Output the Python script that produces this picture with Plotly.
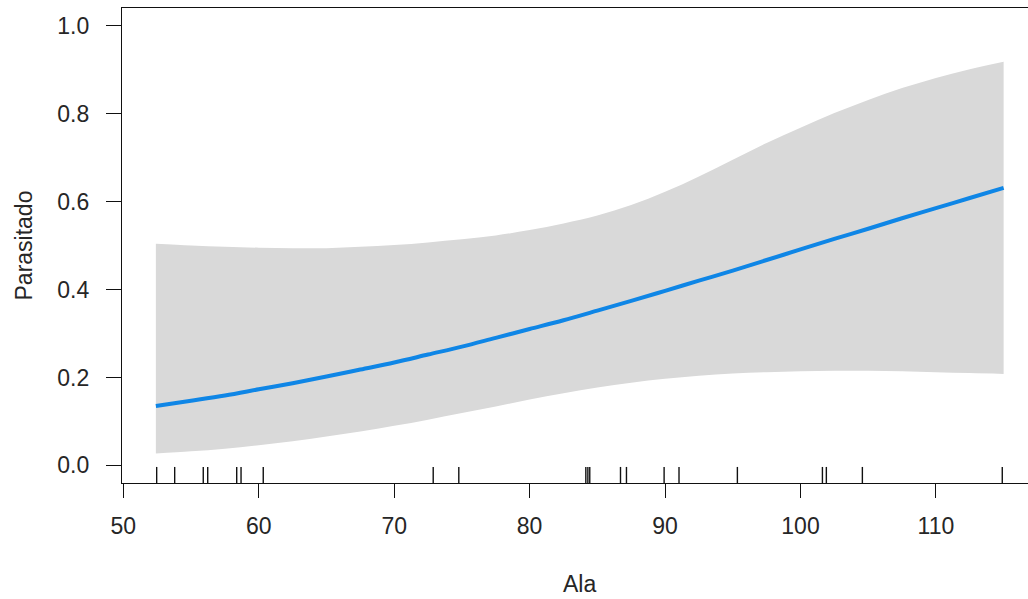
import plotly.graph_objects as go

# Fitted curve (Ala vs probability Parasitado)
ala = [52.4, 55, 57.5, 60, 62.5, 65, 67.5, 70, 72.5, 75, 77.5, 80, 82.5,
       85, 87.5, 90, 92.5, 95, 97.5, 100, 102.5, 105, 107.5, 110, 112.5, 115]
fit = [0.135, 0.147, 0.159, 0.173, 0.187, 0.202, 0.218, 0.234, 0.252, 0.270,
       0.290, 0.310, 0.330, 0.352, 0.374, 0.397, 0.420, 0.443, 0.467, 0.491,
       0.515, 0.538, 0.562, 0.585, 0.608, 0.631]
upper = [0.504, 0.500, 0.497, 0.495, 0.494, 0.494, 0.497, 0.501, 0.507, 0.514,
         0.523, 0.535, 0.550, 0.568, 0.592, 0.622, 0.657, 0.695, 0.733, 0.768,
         0.801, 0.831, 0.858, 0.881, 0.901, 0.918]
lower = [0.027, 0.032, 0.038, 0.046, 0.055, 0.066, 0.077, 0.090, 0.104, 0.119,
         0.134, 0.150, 0.164, 0.177, 0.188, 0.197, 0.204, 0.209, 0.212, 0.214,
         0.215, 0.215, 0.214, 0.212, 0.210, 0.208]

# Observed Ala values (rug)
rug = [52.46, 53.79, 55.90, 56.23, 58.37, 58.69, 60.33, 72.88, 74.77,
       84.15, 84.30, 84.44, 86.71, 87.15, 89.93, 91.03, 95.34, 101.62,
       101.91, 104.57, 114.90]

x_ticks = [50, 60, 70, 80, 90, 100, 110]
y_ticks = [0.0, 0.2, 0.4, 0.6, 0.8, 1.0]
y_tick_text = ["0.0", "0.2", "0.4", "0.6", "0.8", "1.0"]

XR = [49.9, 116.8]
YR = [-0.04, 1.04]
RUG_TOP = -0.0035

FONT = "Liberation Sans, Arial, sans-serif"
TXT = "#262626"
FS = 23

fig = go.Figure()

# confidence band (lower, then upper filled to it)
fig.add_trace(go.Scatter(
    x=ala, y=lower, mode="lines",
    line=dict(width=0, shape="spline", color="#d9d9d9"),
    hoverinfo="skip", showlegend=False))
fig.add_trace(go.Scatter(
    x=ala, y=upper, mode="lines", fill="tonexty", fillcolor="#d9d9d9",
    line=dict(width=0, shape="spline", color="#d9d9d9"),
    hoverinfo="skip", showlegend=False))

# fitted line
fig.add_trace(go.Scatter(
    x=ala, y=fit, mode="lines",
    line=dict(color="#0f86e6", width=4, shape="spline"),
    showlegend=False))

# rug
rx, ry = [], []
for v in rug:
    rx += [v, v, None]
    ry += [YR[0], RUG_TOP, None]
fig.add_trace(go.Scatter(x=rx, y=ry, mode="lines",
                         line=dict(color="#111111", width=1.4),
                         hoverinfo="skip", showlegend=False))

plot_h = 599 - 8 - 116
plot_w = 1028 - 122

fig.update_layout(
    width=1028, height=599,
    margin=dict(l=122, r=0, t=8, b=116),
    paper_bgcolor="white", plot_bgcolor="white",
    font=dict(family=FONT, size=FS, color=TXT),
    xaxis=dict(range=XR, tickvals=x_ticks, ticks="outside", ticklen=14,
               tickwidth=1.3, tickcolor="#111111",
               showline=True, linecolor="#111111", linewidth=1.3, mirror=True,
               showgrid=False, zeroline=False, ticklabelstandoff=8,
               tickfont=dict(size=FS, color=TXT)),
    yaxis=dict(range=YR, tickvals=y_ticks, ticktext=y_tick_text,
               ticks="outside", ticklen=15, tickwidth=1.3, tickcolor="#111111",
               showline=True, linecolor="#111111", linewidth=1.3, mirror=False,
               showgrid=False, zeroline=False, ticklabelstandoff=12,
               tickfont=dict(size=FS, color=TXT)),
    annotations=[
        dict(text="Ala", x=83.65, y=(599 - 116 - 584) / plot_h,
             xref="x", yref="paper",
             showarrow=False, font=dict(size=FS, color=TXT),
             xanchor="center", yanchor="middle"),
        dict(text="Parasitado", x=(23 - 122) / plot_w,
             y=(599 - 116 - 245.5) / plot_h, xref="paper", yref="paper",
             showarrow=False, textangle=-90, font=dict(size=FS, color=TXT),
             xanchor="center", yanchor="middle"),
    ],
)

fig.write_html("out.html")
